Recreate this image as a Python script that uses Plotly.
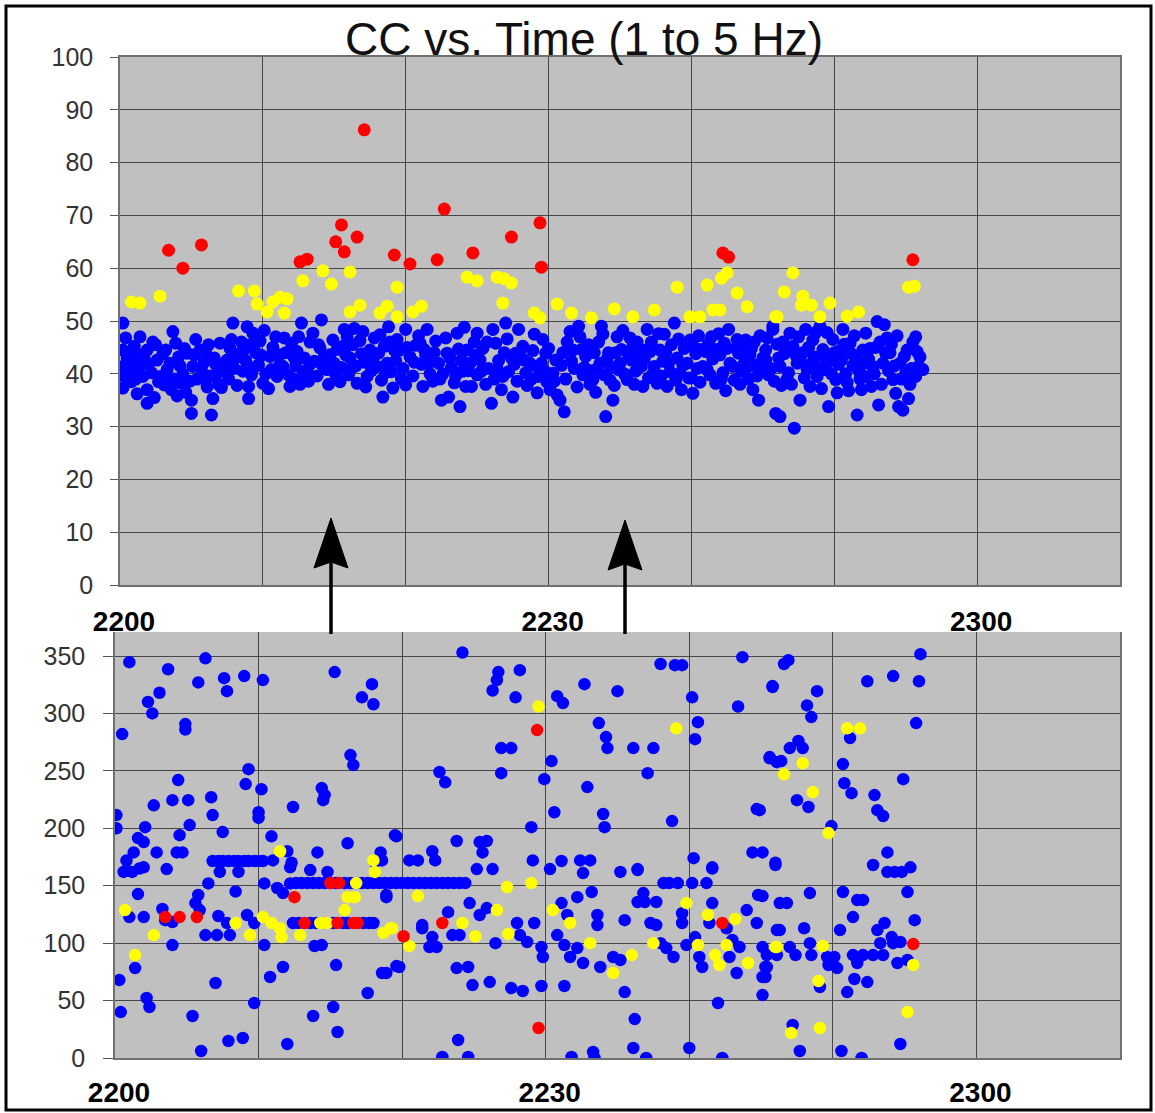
import plotly.graph_objects as go

# ---------------- data (x = minutes after 22:00, y = value) ----------------
X_TICKS = [0, 10, 20, 30, 40, 50, 60, 70]
X_TICKTEXT = ["2200", "", "", "2230", "", "", "2300", ""]
TOP_Y_TICKS = [0, 10, 20, 30, 40, 50, 60, 70, 80, 90, 100]
BOT_Y_TICKS = [0, 50, 100, 150, 200, 250, 300, 350]
TITLE = "CC vs. Time (1 to 5 Hz)"

TOP_RED = [(3.4, 63.4), (4.4, 60.0), (5.7, 64.4), (12.6, 61.2), (13.1, 61.7), (15.1, 65.0),
           (15.5, 68.2), (15.7, 63.1), (16.6, 65.9), (17.1, 86.2), (19.2, 62.5), (20.3, 60.8),
           (22.2, 61.6), (22.7, 71.2), (24.7, 62.9), (27.4, 65.9), (29.4, 68.6), (29.5, 60.2),
           (42.2, 62.9), (42.6, 62.1), (55.5, 61.6)]

TOP_YELLOW = [(0.8, 53.6), (1.4, 53.4), (2.8, 54.7), (8.3, 55.7), (9.4, 55.7), (9.6, 53.2),
              (10.3, 51.7), (10.7, 53.6), (11.2, 54.5), (11.7, 54.2), (11.5, 51.5), (12.8, 57.6),
              (14.2, 59.5), (14.8, 57.0), (16.1, 59.3), (16.1, 51.7), (16.8, 53.0), (18.2, 51.5),
              (18.7, 52.8), (19.4, 56.4), (19.4, 50.8), (20.5, 51.7), (21.1, 52.8), (24.3, 58.3),
              (25.0, 57.6), (26.4, 58.3), (26.9, 58.0), (27.4, 57.2), (26.8, 53.4), (29.0, 51.5),
              (29.4, 50.6), (30.6, 53.2), (31.6, 51.5), (33.0, 50.6), (34.6, 52.3), (35.9, 50.8),
              (37.4, 52.1), (39.0, 56.4), (39.9, 50.8), (40.6, 50.8), (41.1, 56.8), (41.5, 52.1),
              (42.0, 52.1), (42.1, 58.1), (42.5, 59.1), (43.2, 55.3), (43.9, 52.7), (45.9, 50.8),
              (47.1, 59.1), (46.5, 55.5), (47.8, 54.7), (47.7, 53.0), (48.4, 53.0), (49.7, 53.4),
              (49.0, 50.8), (46.0, 50.8), (50.9, 50.9), (51.7, 51.7), (55.2, 56.4), (55.6, 56.6)]

TOP_BLUE = [
    (0.2, 49.6), (0.2, 44.5), (0.2, 41.4), (0.3, 39.5), (0.2, 37.3), (0.5, 43.0), (0.6, 40.5),
    (0.8, 38.5), (0.9, 42.3), (1.0, 45.2), (1.2, 36.2), (1.4, 47.0), (1.3, 41.0), (1.6, 39.5),
    (1.9, 44.5), (1.9, 37.0), (1.9, 34.4), (1.7, 42.8), (2.2, 40.2), (2.4, 35.5),
    (2.6, 42.6), (2.8, 39.5), (2.5, 45.5), (3.0, 43.8), (3.1, 37.9), (3.3, 40.8), (3.5, 42.0),
    (3.6, 37.0), (3.7, 48.0), (3.9, 45.8), (3.8, 39.0), (4.0, 35.8), (4.3, 38.2), (4.2, 41.5),
    (4.5, 44.8), (4.7, 43.9), (4.6, 36.5),
    (5.0, 35.0), (5.0, 32.5), (5.1, 41.4), (5.3, 46.5), (5.4, 39.0), (5.6, 44.5), (5.8, 39.5),
    (5.9, 42.2), (6.1, 37.5), (6.2, 45.5), (6.5, 35.3), (6.4, 32.2), (6.6, 43.0), (6.8, 40.1),
    (6.9, 38.0), (7.0, 45.8), (7.2, 41.8),
    (7.5, 42.6), (7.6, 39.0), (7.7, 44.8), (7.9, 49.6), (8.0, 41.0), (8.2, 37.8), (8.4, 43.9),
    (8.5, 46.0), (8.6, 40.5), (8.9, 48.9), (8.8, 42.5), (9.0, 37.6), (9.0, 35.3), (9.3, 47.7),
    (9.2, 39.8), (9.5, 44.0), (9.7, 41.7), (9.8, 46.2), (10.0, 38.2), (10.2, 40.0),
    (10.5, 43.3), (10.4, 37.2), (10.7, 45.0), (10.9, 47.0), (11.0, 39.5), (11.2, 41.8),
    (11.4, 41.4), (11.6, 44.0), (11.9, 37.6), (12.0, 45.8), (12.1, 39.0), (12.4, 44.2),
    (12.3, 41.5), (12.7, 49.6), (12.6, 38.0), (12.9, 43.0), (13.1, 40.8), (13.3, 46.0), (13.2, 38.6),
    (13.5, 47.7), (13.6, 42.4), (13.8, 39.6), (14.1, 50.2), (14.0, 44.9), (14.3, 43.3), (14.5, 40.8),
    (14.6, 38.0), (14.9, 46.4), (15.0, 42.0), (15.2, 44.6), (15.4, 38.5), (15.5, 41.2), (15.7, 48.4),
    (15.9, 47.0), (15.8, 43.6), (16.1, 43.0), (16.0, 39.8),
    (16.3, 45.5), (16.6, 38.2), (16.5, 41.5), (16.8, 46.3), (17.0, 48.0), (17.1, 42.2), (17.3, 39.5),
    (17.5, 44.5), (17.6, 40.6), (17.8, 46.8), (18.0, 41.4), (18.1, 43.9), (18.4, 35.6), (18.3, 38.8),
    (18.5, 45.2), (18.8, 48.9), (18.7, 42.0), (19.0, 40.4), (19.2, 44.5), (19.1, 37.3),
    (19.4, 46.5), (19.6, 44.5), (19.8, 41.0), (20.0, 48.4), (20.0, 37.9), (20.3, 43.2), (20.5, 39.6),
    (20.7, 45.4), (21.0, 45.8), (21.2, 37.6), (21.1, 41.8), (21.5, 48.4), (21.4, 43.5), (21.7, 40.0),
    (21.9, 38.6), (22.1, 46.2), (22.3, 42.0),
    (22.5, 35.0), (22.6, 40.0), (22.9, 43.9), (23.0, 35.6), (23.2, 41.2), (23.4, 38.3), (23.6, 47.7),
    (23.8, 33.8), (23.7, 44.7), (24.0, 40.5), (24.3, 44.5), (24.2, 37.6), (24.5, 42.0), (24.6, 37.6),
    (24.8, 46.0), (25.0, 47.7), (25.0, 39.8),
    (25.2, 42.6), (25.4, 44.8), (25.6, 38.0), (25.8, 41.0), (26.1, 48.4), (26.0, 34.4), (26.3, 45.8),
    (26.2, 39.0), (26.5, 42.5), (26.7, 37.0), (27.0, 49.6), (26.9, 44.0), (27.2, 40.4), (27.5, 35.6),
    (27.4, 43.0), (27.7, 43.9), (27.9, 48.4), (27.8, 38.6),
    (28.2, 45.2), (28.4, 40.2), (28.5, 37.8), (28.7, 42.0), (28.9, 44.4), (29.1, 41.4), (29.3, 39.5),
    (29.2, 36.4), (29.6, 46.5), (29.8, 43.9), (29.9, 38.4), (30.1, 37.0), (30.3, 40.1), (30.5, 42.6),
    (30.6, 36.0), (30.8, 35.0), (31.0, 44.0), (31.1, 32.8), (31.2, 39.0),
    (31.5, 48.0), (31.7, 44.5), (31.8, 41.0), (32.1, 49.0), (32.2, 47.0), (32.0, 37.5), (32.4, 39.8),
    (32.6, 43.3), (32.8, 45.5), (33.0, 40.6), (33.1, 38.9), (33.3, 36.5), (33.6, 42.0), (33.7, 49.0),
    (33.5, 46.0), (33.9, 39.8), (34.0, 31.9), (34.2, 44.0),
    (34.5, 35.0), (34.4, 41.2), (34.6, 37.8), (34.8, 47.0), (35.0, 42.0), (35.1, 44.6), (35.3, 40.0),
    (35.5, 38.9), (35.7, 46.8), (35.9, 45.2), (35.8, 42.6), (36.1, 40.5), (36.3, 43.6), (36.6, 37.6),
    (36.5, 41.4), (36.9, 48.4), (36.8, 44.5), (37.0, 39.2),
    (37.2, 46.0), (37.4, 41.4), (37.6, 38.2), (37.8, 44.5), (38.0, 42.4), (38.1, 47.5), (38.3, 37.6),
    (38.5, 40.4), (38.6, 45.5), (38.8, 49.6), (39.0, 43.0), (39.2, 40.1), (39.3, 37.0), (39.5, 44.8),
    (39.7, 42.0), (39.9, 46.4), (40.1, 36.3), (40.0, 39.2),
    (40.3, 43.8), (40.5, 47.2), (40.6, 38.4), (40.8, 41.4), (41.0, 44.2), (41.2, 45.8), (41.3, 39.8),
    (41.5, 42.8), (41.7, 38.2), (41.9, 47.6), (42.0, 43.6), (42.2, 40.2), (42.4, 36.8), (42.6, 48.4),
    (42.5, 44.8), (42.9, 41.4), (43.0, 38.8),
    (43.3, 43.9), (43.2, 46.5), (43.5, 40.5), (43.8, 46.4), (43.7, 42.0), (44.0, 39.0), (44.3, 37.0),
    (44.2, 44.8), (44.5, 41.6), (44.7, 35.0), (44.8, 47.2), (45.0, 43.0), (45.2, 44.5), (45.2, 42.6),
    (45.4, 39.8), (45.7, 48.4), (45.7, 49.0), (45.9, 32.5), (46.0, 45.6),
    (46.2, 41.4), (46.2, 31.9), (46.3, 37.8), (46.5, 43.8), (46.9, 47.7), (46.8, 40.2), (47.1, 45.2),
    (47.2, 29.7), (47.0, 38.0), (47.4, 42.0), (47.6, 42.6), (47.6, 35.0), (47.8, 44.0), (48.0, 48.4),
    (48.1, 40.8), (48.3, 37.6), (48.5, 46.4), (48.6, 43.2), (48.8, 39.5), (49.0, 49.0),
    (49.2, 44.6), (49.4, 40.8), (49.6, 33.8), (49.7, 42.5), (49.9, 46.5), (50.1, 38.9), (50.3, 41.8),
    (50.4, 44.4), (50.6, 48.4), (50.8, 40.0), (51.1, 45.8), (51.0, 36.8), (51.3, 41.6), (51.5, 43.3),
    (51.6, 32.2), (51.8, 39.0), (52.0, 44.5),
    (52.2, 47.7), (52.2, 39.5), (52.4, 42.8), (52.7, 41.4), (52.9, 45.0), (53.0, 49.9), (53.1, 34.1),
    (53.3, 38.0), (53.5, 49.3), (53.6, 43.9), (53.8, 40.6), (54.1, 38.9), (54.0, 45.6), (54.3, 36.3),
    (54.5, 33.8), (54.6, 42.0), (54.8, 33.1), (54.9, 43.3), (55.0, 40.2), (55.2, 35.3), (55.4, 41.0),
    (55.7, 47.0), (55.7, 39.5), (55.9, 41.4), (56.2, 40.8), (56.0, 43.2)]

TOP_BLUE_MORE = [
    (0.4, 46.8), (0.7, 44.0), (1.1, 39.0), (1.5, 43.5), (2.0, 41.8), (2.3, 46.0), (2.7, 38.5),
    (3.2, 44.5), (3.4, 39.2), (4.1, 43.2), (4.4, 40.0), (4.9, 38.6), (5.2, 43.6), (5.7, 40.8),
    (6.0, 44.0), (6.3, 39.6), (6.7, 41.8), (7.1, 37.4), (7.4, 40.4), (7.8, 46.5), (8.1, 43.0),
    (8.7, 44.6), (9.1, 45.5), (9.4, 41.2), (9.9, 43.5), (10.1, 48.2), (10.6, 40.8), (11.1, 43.6),
    (11.5, 46.8), (11.8, 39.8), (12.2, 43.0), (12.5, 47.0), (12.8, 40.0), (13.4, 42.0), (13.9, 45.5),
    (14.2, 41.5), (14.7, 43.6), (15.1, 39.8), (15.6, 45.2), (16.2, 41.0), (16.4, 48.6), (16.9, 43.8),
    (17.2, 37.5), (17.7, 42.8), (18.2, 47.4), (18.6, 40.2), (18.9, 46.0), (19.3, 42.5), (19.7, 39.0),
    (20.1, 45.0), (20.6, 42.2), (20.9, 47.2), (21.3, 44.6), (21.6, 42.0), (22.0, 44.0), (22.4, 39.0),
    (22.8, 46.8), (23.1, 43.0), (23.5, 39.6), (23.9, 42.6), (24.1, 48.8), (24.4, 40.6), (24.9, 43.5),
    (25.3, 40.5), (25.7, 46.0), (26.4, 41.0), (26.8, 39.5), (27.1, 46.6), (27.6, 41.8), (28.0, 44.0),
    (28.3, 42.6), (28.8, 39.0), (29.0, 47.5), (29.5, 42.0), (29.7, 40.6), (30.0, 44.8), (30.4, 38.6),
    (30.9, 41.6), (31.3, 46.0), (31.6, 42.4), (32.3, 44.6), (32.5, 41.2), (32.9, 38.0), (33.2, 44.0),
    (33.4, 41.0), (33.8, 47.5), (34.1, 42.8), (34.3, 38.8), (34.7, 44.0), (34.9, 40.8), (35.2, 48.2),
    (35.6, 43.5), (36.0, 38.0), (36.2, 46.0), (36.7, 42.8), (37.1, 44.2), (37.3, 40.0), (37.7, 47.6),
    (37.9, 39.6), (38.2, 44.0), (38.4, 42.0), (38.9, 38.8), (39.1, 46.6), (39.4, 41.6), (39.8, 39.2),
    (40.2, 45.0), (40.4, 41.0), (40.7, 44.6), (41.1, 40.8), (41.4, 47.0), (41.8, 44.6), (42.1, 39.0),
    (42.3, 45.8), (42.7, 42.0), (43.1, 44.8), (43.4, 38.0), (43.6, 45.0), (43.9, 41.2), (44.1, 43.6),
    (44.4, 46.0), (44.6, 39.6), (44.9, 41.0), (45.3, 46.8), (45.6, 41.0), (45.8, 38.6), (46.1, 43.0),
    (46.4, 46.0), (46.7, 39.0), (47.3, 43.6), (47.5, 47.0), (47.9, 39.2), (48.2, 45.0), (48.4, 42.0),
    (48.7, 47.8), (48.9, 41.0), (49.1, 37.2), (49.3, 43.0), (49.5, 47.8), (49.8, 40.0), (50.0, 44.0),
    (50.2, 36.4), (50.5, 42.6), (50.7, 45.6), (50.9, 38.4), (51.2, 43.8), (51.4, 47.2), (51.7, 40.6),
    (51.9, 37.0), (52.1, 42.0), (52.5, 44.8), (52.6, 37.6), (52.8, 40.0), (53.2, 46.0), (53.4, 42.0),
    (53.7, 46.8), (53.9, 44.0), (54.2, 41.5), (54.4, 47.2), (54.7, 39.0), (55.1, 44.5), (55.3, 38.0),
    (55.5, 46.0), (55.8, 44.2)]

BOT_RED = [(3.5, 122.7), (4.5, 122.7), (5.7, 122.7), (12.5, 140), (15.0, 152.3), (15.6, 152.3),
           (13.2, 117.5), (15.5, 117.5), (16.6, 117.5), (16.9, 117.5), (20.1, 106), (22.8, 117.5),
           (29.4, 285.5), (29.5, 26.1), (42.3, 117.5), (55.6, 99.2)]

BOT_YELLOW = [(11.5, 180), (18.0, 172), (18.1, 162), (29.5, 306), (39.1, 287), (51.0, 287),
              (51.9, 287), (47.9, 256.7), (46.6, 247), (48.6, 231.5), (49.7, 195.8),
              (0.7, 128.8), (2.7, 107), (1.4, 89.6), (8.4, 117.5), (9.4, 107), (10.3, 122.7),
              (10.9, 117.5), (11.5, 113), (11.6, 105.3), (12.9, 107), (14.3, 117.5), (14.8, 117.5),
              (16.0, 128.8), (16.2, 140), (16.7, 140), (16.8, 152.3), (18.7, 108.8), (19.3, 113),
              (21.1, 141), (20.5, 97.5), (19.2, 113), (24.2, 117.5), (25.1, 106), (26.6, 128.8),
              (27.3, 148.8), (29.0, 152.3), (27.4, 108), (30.5, 128.8), (31.7, 117.5), (33.1, 100),
              (34.7, 74), (36.0, 89.6), (37.5, 100), (39.8, 134.9), (41.3, 124.5), (43.2, 121),
              (40.6, 98.3), (41.8, 89.6), (42.1, 81), (42.6, 98.3), (44.1, 82.7), (46.1, 96.6),
              (46.0, 96.6), (49.3, 97.5), (49.0, 67), (47.1, 21.8), (49.1, 26.1), (55.2, 40), (55.6, 81)]

BOT_BLUE_LINE_171_X = [6.8, 7.2, 7.5, 7.9, 8.3, 8.6, 9.0, 9.3, 9.7, 10.0, 10.3]
BOT_BLUE_LINE_152_X = [12.6, 13.0, 13.4, 13.8, 14.2, 14.6, 15.0, 15.4, 16.0, 16.4, 16.8, 17.2,
                       17.6, 18.0, 18.4, 18.8, 19.2, 19.6, 20.0, 20.4, 20.8, 21.2, 21.6, 22.0,
                       22.4, 22.8, 23.2, 23.6, 24.0, 24.4]
BOT_BLUE_LINE_117_X = [12.4, 12.8, 13.6, 14.0, 15.2, 15.9, 16.2, 17.3, 17.7, 18.0]

BOT_BLUE = [
    (1.0, 344.6), (0.5, 282), (2.3, 310), (2.6, 300), (3.1, 318), (3.7, 338.5), (4.9, 290.7),
    (4.9, 286), (5.8, 327), (6.3, 348), (7.6, 330.7), (7.8, 319.4), (9.0, 332.5), (10.3, 329),
    (15.3, 336), (17.2, 314), (17.9, 325.5), (18.0, 308), (16.4, 263.7), (16.6, 255), (9.3, 251.5),
    (9.1, 238.5), (10.2, 234), (4.4, 242), (2.7, 220), (4.0, 224.5), (5.1, 224.5), (6.7, 227),
    (6.8, 211.5), (5.2, 202.8), (4.5, 194), (7.5, 196.7), (0.1, 211.5), (0.1, 200), (2.1, 201),
    (1.6, 191.5), (2.0, 188), (1.3, 179), (0.8, 172), (2.9, 179), (4.3, 179), (4.7, 179),
    (3.6, 164.5), (0.8, 163.6), (1.7, 165), (10.0, 214), (10.0, 209), (10.9, 193), (12.4, 218.5),
    (14.4, 235), (14.6, 229), (14.5, 224.5), (16.2, 187), (14.1, 179), (18.5, 179), (19.5, 194),
    (11.0, 172), (12.0, 180), (12.3, 170), (13.6, 163.6), (14.8, 162), (18.6, 172), (18.1, 170.6),
    (24.2, 353), (26.7, 336), (26.6, 329), (26.3, 320), (28.2, 337.7), (27.9, 314), (30.8, 315),
    (31.2, 309), (32.7, 325.5), (35.0, 319.4), (38.0, 343), (39.0, 342), (39.5, 342), (40.2, 314),
    (43.7, 349), (45.8, 323.8), (43.4, 306), (33.7, 291.6), (40.6, 292.4), (40.4, 277.6),
    (34.2, 279.4), (34.3, 269.8), (36.1, 269.8), (37.5, 269.8), (26.9, 269.8), (27.6, 269.8),
    (30.4, 258.5), (22.6, 249), (23.0, 240), (26.9, 248), (29.9, 242.8), (32.9, 235.9), (37.1, 248),
    (45.6, 261), (46.1, 257.6), (30.6, 214), (34.0, 212.4), (34.1, 201), (38.8, 206.3),
    (44.7, 216.7), (29.0, 201), (19.6, 193), (23.8, 188.9), (25.4, 188), (25.9, 188.9), (25.6, 179),
    (22.1, 180), (20.5, 172), (21.1, 172), (22.3, 172), (25.2, 164.5), (26.3, 164.5), (29.1, 172),
    (30.3, 164.5), (31.1, 171.5), (32.4, 172), (33.1, 172), (35.2, 162), (36.4, 164.5), (40.3, 174),
    (41.6, 166), (44.4, 179), (45.1, 179), (46.0, 170),
    (56.1, 351.6), (46.9, 346.4), (46.6, 343), (52.4, 328), (54.2, 332.5), (56.0, 328), (45.8, 323),
    (48.9, 319.4), (48.2, 307), (48.5, 296.8), (55.8, 291.6), (51.2, 278.5), (47.6, 276),
    (47.0, 269.8), (47.9, 269.8), (45.6, 262), (46.4, 258.5), (50.7, 255.9), (54.9, 242.8),
    (50.8, 239.3), (51.3, 230.6), (52.9, 228.9), (53.1, 215.8), (53.5, 210.6), (47.5, 224.5),
    (48.3, 218.5), (44.9, 215.8), (49.9, 201.9), (53.8, 179), (46.0, 168), (52.8, 168),
    (53.8, 162), (54.3, 162), (54.8, 162), (55.4, 166),
    (0.6, 162), (1.2, 162), (2.0, 166), (7.3, 162), (8.6, 162), (12.2, 166), (6.5, 152), (8.4, 145),
    (1.6, 142.7), (5.8, 141.9), (5.6, 134.9), (5.9, 128.8), (3.3, 129.7), (1.0, 122.7), (2.0, 122.7),
    (3.5, 120), (4.0, 118.4), (7.2, 123.6), (6.3, 107), (7.1, 107), (8.0, 107), (9.2, 124.5),
    (9.7, 117.5), (7.8, 117.5), (4.0, 98.3), (10.4, 98.3), (1.4, 78.3), (0.3, 67.9), (7.0, 65.3),
    (10.8, 70.5), (11.7, 79.2), (2.2, 52.2), (2.4, 44.4), (0.4, 40), (5.4, 36.6), (9.7, 47.9),
    (7.9, 14.8), (8.9, 17.4), (6.0, 6.1), (12.0, 12.2), (13.8, 36.6), (15.2, 44.4), (15.5, 22.6),
    (17.6, 56.6), (18.6, 74), (15.4, 80.9), (19.6, 80), (13.9, 97.5), (14.4, 98.3), (18.9, 140),
    (10.4, 152), (11.3, 148), (11.7, 143.6), (12.2, 152),
    (18.9, 141.9), (23.2, 127), (23.5, 107), (24.0, 107), (21.4, 113), (21.9, 96.6), (22.4, 96.6),
    (19.8, 79.2), (23.8, 78.3), (24.6, 79.2), (24.9, 63.5), (26.1, 66.1), (27.6, 60.9), (28.4, 58.3),
    (29.7, 62.7), (31.3, 62.7), (24.7, 134.9), (25.4, 124.5), (25.9, 130.5), (26.5, 100),
    (28.0, 117.5), (28.2, 107), (28.7, 101), (29.2, 117.5), (29.7, 96.6), (29.8, 87.9), (30.8, 107),
    (31.1, 134.9), (31.5, 124.5), (32.2, 140), (33.2, 144.5), (32.6, 161), (33.6, 124.5),
    (33.6, 115.7), (31.3, 98.3), (32.2, 95.7), (31.7, 87.9), (32.6, 82.7), (33.8, 79.2), (34.7, 87.9),
    (35.2, 85.3), (35.5, 120), (36.4, 163.6), (36.4, 135.8), (36.9, 135.8), (37.7, 135.8),
    (36.8, 143.6), (37.3, 117.5), (37.7, 115.7), (38.0, 100), (38.4, 95.7), (38.9, 87.9), (39.5, 126),
    (39.5, 117.5), (39.8, 98.3), (38.2, 152.3), (38.6, 152.3), (39.2, 152.3), (40.2, 152.3),
    (41.2, 152.3), (41.6, 165), (41.6, 134.9), (40.4, 105.3), (40.7, 87.9), (40.9, 79.2),
    (41.4, 117.5), (42.6, 113), (43.0, 102.7), (43.5, 96.6), (42.8, 87.9), (43.3, 74), (44.0, 128.8),
    (44.7, 117.5), (44.8, 141.9), (45.1, 96.6), (45.4, 79.2), (45.1, 70.5), (45.1, 54.8),
    (46.1, 111.4), (18.9, 74), (21.4, 115.7), (22.1, 105.3), (22.8, 0.9), (24.6, 0.9), (23.9, 15.7),
    (31.8, 0.9), (33.3, 5.2), (33.4, 0), (36.1, 8.7), (37.0, 0), (36.2, 33.9), (35.5, 57.4),
    (40.0, 8.7), (42.3, 0), (42.0, 47.9),
    (48.4, 143.6), (50.7, 144.5), (51.7, 137.5), (52.1, 137.5), (46.3, 134.9), (46.8, 134.9),
    (45.1, 141), (55.2, 144.5), (55.7, 120), (51.4, 122.7), (53.6, 117.5), (53.1, 111.4),
    (50.5, 111.4), (48.0, 113), (46.3, 111.4), (48.4, 100), (47.0, 96.6), (47.4, 89.6), (48.5, 89.6),
    (49.6, 87.9), (50.1, 87.9), (51.4, 89.6), (52.1, 89.6), (52.8, 89.6), (53.5, 89.6), (53.3, 100),
    (54.2, 100), (54.1, 105.3), (54.7, 101), (54.5, 82.7), (55.2, 85.3), (51.7, 82.7), (49.7, 81),
    (50.3, 78.3), (45.4, 89.6), (46.1, 89.6), (45.3, 79.2), (45.3, 70.5), (51.5, 68.8), (52.4, 66.1),
    (51.0, 57.4), (49.1, 61.8), (47.2, 28.7), (47.7, 6.1), (50.6, 6.1), (52.0, 0), (54.7, 12.2)]

# ---------------- layout helpers ----------------
W, H = 1155, 1113


def px(x):
    return x / W


def py(y):
    return 1 - y / H


def xs(pts):
    return [p[0] for p in pts]


def ys(pts):
    return [p[1] for p in pts]


top_blue_all = TOP_BLUE + TOP_BLUE_MORE
bot_blue_all = (BOT_BLUE
                + [(x, 171.5) for x in BOT_BLUE_LINE_171_X]
                + [(x, 152.3) for x in BOT_BLUE_LINE_152_X]
                + [(x, 117.5) for x in BOT_BLUE_LINE_117_X])

BLUE, YELLOW, RED = "#0000FF", "#FFFF00", "#FF0000"

fig = go.Figure()


def add(pts, color, size, xa, ya):
    fig.add_trace(go.Scatter(x=xs(pts), y=ys(pts), mode="markers", xaxis=xa, yaxis=ya,
                             marker=dict(color=color, size=size, line=dict(width=0)),
                             showlegend=False, hoverinfo="skip"))


add(top_blue_all, BLUE, 13, "x", "y")
add(TOP_YELLOW, YELLOW, 13, "x", "y")
add(TOP_RED, RED, 13, "x", "y")
add(bot_blue_all, BLUE, 12.5, "x2", "y2")
add(BOT_YELLOW, YELLOW, 12.5, "x2", "y2")
add(BOT_RED, RED, 12.5, "x2", "y2")

FONT = "Liberation Sans, Arial, sans-serif"
GRID = "#474747"

xcommon = dict(range=[0, 70], tickmode="array", tickvals=X_TICKS, ticktext=X_TICKTEXT,
               showgrid=True, gridcolor=GRID, gridwidth=1.3, zeroline=False, automargin=False,
               showline=True, linecolor="#707070", linewidth=1.5, ticks="",
               tickfont=dict(family=FONT, size=28, color="#000000", weight="bold"),
               ticklabelshift=4)
ycommon = dict(showgrid=True, gridcolor=GRID, gridwidth=1.3, zeroline=False, automargin=False,
               showline=True, linecolor="#707070", linewidth=1.5, mirror=True,
               ticks="outside", tickcolor="#555555", tickwidth=1.3,
               tickfont=dict(family=FONT, size=25, color="#333333"))

top_bottom_px = 585
bot_bottom_px = 1058
bot_top_px = 632
bot_ymax = 350 * (bot_bottom_px - bot_top_px) / (bot_bottom_px - 656)

fig.update_layout(
    width=W, height=H, autosize=False,
    margin=dict(l=0, r=0, t=0, b=0, pad=0),
    paper_bgcolor="#FFFFFF", plot_bgcolor="#C0C0C0",
    font=dict(family=FONT),
    xaxis=dict(xcommon, domain=[px(120), px(1120)], anchor="y", mirror=True,
               ticklabelstandoff=11),
    yaxis=dict(ycommon, domain=[py(top_bottom_px), py(57)], anchor="x", range=[0, 100],
               tickmode="array", tickvals=TOP_Y_TICKS, ticklen=8, ticklabelstandoff=12),
    xaxis2=dict(xcommon, domain=[px(115), px(1120)], anchor="y2", mirror=False,
                ticklabelstandoff=9),
    yaxis2=dict(ycommon, domain=[py(bot_bottom_px), py(bot_top_px)], anchor="x2",
                range=[0, bot_ymax], tickmode="array", tickvals=BOT_Y_TICKS,
                ticklen=10, ticklabelstandoff=13),
)

fig.add_annotation(text=TITLE, xref="paper", yref="paper", x=px(584), y=py(39),
                   xanchor="center", yanchor="middle", showarrow=False,
                   font=dict(family=FONT, size=46, color="#111111"))

# arrows
for ax, tip in [(331, 518), (625, 520)]:
    fig.add_shape(type="line", xref="paper", yref="paper",
                  x0=px(ax), x1=px(ax), y0=py(634), y1=py(tip + 40),
                  line=dict(color="#000000", width=3.5), layer="above")
    path = (f"M {px(ax)},{py(tip)} L {px(ax - 17)},{py(tip + 50)} "
            f"L {px(ax)},{py(tip + 44)} L {px(ax + 17)},{py(tip + 50)} Z")
    fig.add_shape(type="path", xref="paper", yref="paper", path=path,
                  fillcolor="#000000", line=dict(color="#000000", width=1), layer="above")

# outer frame
fig.add_shape(type="rect", xref="paper", yref="paper", x0=px(6), x1=px(1151),
              y0=py(1110), y1=py(6), line=dict(color="#000000", width=3), layer="above")

fig.write_html(
    "out.html",
    config={"displayModeBar": False},
    post_script=("document.body.style.margin='0';document.body.style.padding='0';"
                 "document.documentElement.style.overflow='hidden';"),
)
